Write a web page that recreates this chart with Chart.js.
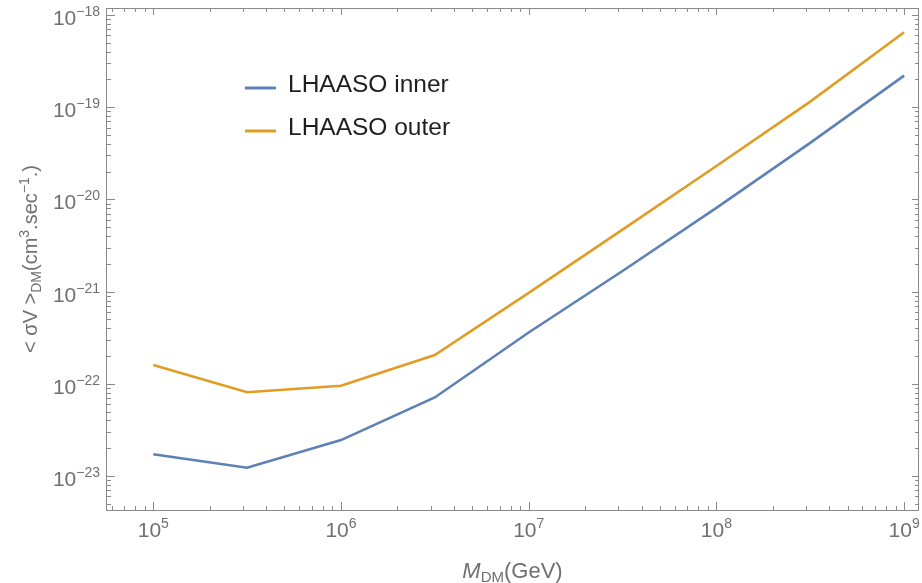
<!DOCTYPE html>
<html>
<head>
<meta charset="utf-8">
<script src="https://cdn.jsdelivr.net/npm/chart.js@4/dist/chart.umd.min.js"></script>
<style>
  html, body { margin: 0; padding: 0; background: #ffffff; }
  #wrap { width: 922px; height: 583px; }
</style>
</head>
<body>
<div id="wrap"><canvas id="plot" width="922" height="583"></canvas></div>
<script>
// Dark-matter mass grid (GeV)
const massGeV = [1e5, 3.16e5, 1e6, 3.16e6, 1e7, 3.16e7, 1e8, 3.16e8, 1e9];

// Upper limits on <sigma v> (cm^3 s^-1)
const innerLimit = [1.72e-23, 1.23e-23, 2.45e-23, 7.1e-23, 3.6e-22, 1.67e-21, 8.1e-21, 4.1e-20, 2.2e-19];
const outerLimit = [1.60e-22, 8.1e-23, 9.5e-23, 2.05e-22, 9.7e-22, 4.7e-21, 2.3e-20, 1.15e-19, 6.5e-19];

const seriesNames = ['LHAASO inner', 'LHAASO outer'];

// Decade exponents that carry labels
const xTickExponents = [5, 6, 7, 8, 9];
const yTickExponents = [-23, -22, -21, -20, -19, -18];

const FONT = '"Liberation Sans", Arial, Helvetica, sans-serif';
const TICK_COLOR = '#707070';
const FRAME_COLOR = '#8a8a8a';

function supText(n) { return n < 0 ? '\u2212' + Math.abs(n) : String(n); }

// Draws a run of text pieces: {t, size, dy, italic}
function drawRuns(ctx, runs, x, y, align) {
  let total = 0;
  const widths = runs.map(r => {
    ctx.font = (r.italic ? 'italic ' : '') + r.size + 'px ' + FONT;
    const w = ctx.measureText(r.t).width;
    total += w;
    return w;
  });
  let cx = align === 'center' ? x - total / 2 : align === 'right' ? x - total : x;
  ctx.textAlign = 'left';
  ctx.textBaseline = 'alphabetic';
  runs.forEach((r, i) => {
    ctx.font = (r.italic ? 'italic ' : '') + r.size + 'px ' + FONT;
    ctx.fillText(r.t, cx, y + (r.dy || 0));
    cx += widths[i];
  });
}

function powerRuns(exp) {
  return [{ t: '10', size: 21 }, { t: supText(exp), size: 14, dy: -9 }];
}

const framePlugin = {
  id: 'frame',
  afterDatasetsDraw(chart) {
    const { ctx, chartArea: a, scales } = chart;
    const xs = scales.x, ys = scales.y;
    ctx.save();

    // frame
    ctx.strokeStyle = FRAME_COLOR;
    ctx.lineWidth = 1;
    ctx.strokeRect(a.left + 0.5, a.top + 0.5, a.right - a.left - 1, a.bottom - a.top - 1);

    // ticks on all four sides, pointing inward
    ctx.beginPath();
    for (let d = 4; d <= 9; d++) {
      for (let k = 1; k <= 9; k++) {
        const v = k * Math.pow(10, d);
        if (v < xs.min || v > xs.max) continue;
        const px = Math.round(xs.getPixelForValue(v)) + 0.5;
        const lb = k === 1 ? 9 : 5, lt = k === 1 ? 7 : 4;
        ctx.moveTo(px, a.bottom); ctx.lineTo(px, a.bottom - lb);
        ctx.moveTo(px, a.top); ctx.lineTo(px, a.top + lt);
      }
    }
    for (let d = -24; d <= -18; d++) {
      for (let k = 1; k <= 9; k++) {
        const v = k * Math.pow(10, d);
        if (v < ys.min || v > ys.max) continue;
        const py = Math.round(ys.getPixelForValue(v)) + 0.5;
        const ll = k === 1 ? 9 : 5, lr = k === 1 ? 7 : 4;
        ctx.moveTo(a.left, py); ctx.lineTo(a.left + ll, py);
        ctx.moveTo(a.right, py); ctx.lineTo(a.right - lr, py);
      }
    }
    ctx.stroke();

    // tick labels
    ctx.fillStyle = TICK_COLOR;
    xTickExponents.forEach(e => {
      const px = xs.getPixelForValue(Math.pow(10, e));
      drawRuns(ctx, powerRuns(e), px, a.bottom + 26, 'center');
    });
    yTickExponents.forEach(e => {
      const py = ys.getPixelForValue(Math.pow(10, e));
      drawRuns(ctx, powerRuns(e), a.left - 6, py + 10, 'right');
    });

    // x axis title
    drawRuns(ctx, [
      { t: 'M', size: 22, italic: true },
      { t: 'DM', size: 15, dy: 4 },
      { t: '(GeV)', size: 22 }
    ], (a.left + a.right) / 2, 578, 'center');

    // y axis title
    ctx.save();
    ctx.translate(37, 259);
    ctx.rotate(-Math.PI / 2);
    drawRuns(ctx, [
      { t: '< \u03C3V >', size: 20 },
      { t: 'DM', size: 14, dy: 4 },
      { t: '(cm', size: 20 },
      { t: '3', size: 14, dy: -8 },
      { t: '.sec', size: 20 },
      { t: '\u22121', size: 14, dy: -8 },
      { t: '.)', size: 20 }
    ], 0, 0, 'center');
    ctx.restore();

    // legend
    const legendY = [88, 131];
    chart.data.datasets.forEach((ds, i) => {
      ctx.strokeStyle = ds.borderColor;
      ctx.lineWidth = 3;
      ctx.beginPath();
      ctx.moveTo(245, legendY[i]);
      ctx.lineTo(276, legendY[i]);
      ctx.stroke();
      ctx.fillStyle = '#1e1e1e';
      ctx.font = '24.5px ' + FONT;
      ctx.textAlign = 'left';
      ctx.textBaseline = 'alphabetic';
      ctx.fillText(ds.label, 288, legendY[i] + 4);
    });

    ctx.restore();
  }
};

const toPoints = vals => massGeV.map((m, i) => ({ x: m, y: vals[i] }));

new Chart(document.getElementById('plot'), {
  type: 'line',
  data: {
    datasets: [
      { label: seriesNames[0], data: toPoints(innerLimit), borderColor: '#5e81b5', borderWidth: 2.6, pointRadius: 0, tension: 0, fill: false },
      { label: seriesNames[1], data: toPoints(outerLimit), borderColor: '#e19c24', borderWidth: 2.6, pointRadius: 0, tension: 0, fill: false }
    ]
  },
  options: {
    responsive: false,
    animation: false,
    devicePixelRatio: 1,
    layout: { padding: { left: 106, right: 3, top: 8, bottom: 72 } },
    plugins: { legend: { display: false }, tooltip: { enabled: false } },
    scales: {
      x: { type: 'logarithmic', min: 5.6e4, max: 1.2e9, display: false },
      y: { type: 'logarithmic', min: 4.17e-24, max: 1.19e-18, display: false }
    }
  },
  plugins: [framePlugin]
});
</script>
</body>
</html>
